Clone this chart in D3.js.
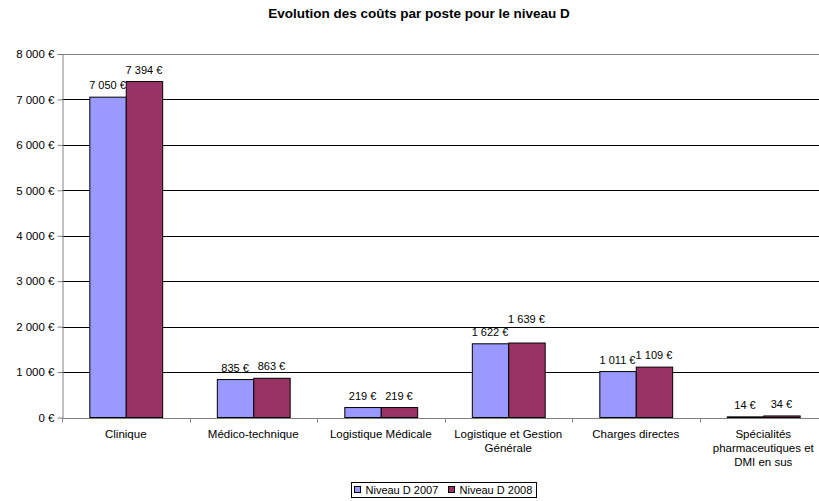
<!DOCTYPE html>
<html>
<head>
<meta charset="utf-8">
<script src="https://cdn.jsdelivr.net/npm/d3@7"></script>
<style>
  body { margin: 0; background: #fff; }
  svg { display: block; font-family: 'Liberation Sans', Arial, sans-serif; }
</style>
</head>
<body>
<svg id="chart" width="819" height="501"></svg>
<script>
const categories = [
  'Clinique',
  'Médico-technique',
  'Logistique Médicale',
  'Logistique et Gestion Générale',
  'Charges directes',
  'Spécialités pharmaceutiques et DMI en sus'
]
const seriesNames = ['Niveau D 2007', 'Niveau D 2008']
const values2007 = [7050, 835, 219, 1622, 1011, 14]
const values2008 = [7394, 863, 219, 1639, 1109, 34]
const yTicks = [0, 1000, 2000, 3000, 4000, 5000, 6000, 7000, 8000]

const width = 819
const height = 501
const colors = ['#9999FF', '#993366']
const plot = { left: 62, top: 54, bottom: 417.5, catWidth: 127.5 }

const fmt = (v) => d3.format(',')(v).replace(/,/g, ' ') + ' €'

const svg = d3.select('#chart')

// title
svg
  .append('text')
  .attr('x', 419)
  .attr('y', 18)
  .attr('text-anchor', 'middle')
  .attr('font-size', 13.5)
  .attr('font-weight', 'bold')
  .text('Evolution des coûts par poste pour le niveau D')

const x0 = d3
  .scaleBand()
  .domain(categories)
  .range([plot.left, plot.left + plot.catWidth * categories.length])

const x1 = d3
  .scaleBand()
  .domain(seriesNames)
  .range([0, x0.bandwidth()])
  .paddingOuter(0.75)

const y = d3.scaleLinear().domain([0, 8000]).range([plot.bottom, plot.top])

// gridlines
svg
  .append('g')
  .selectAll('line')
  .data(yTicks.filter((t) => t > 0 && t < 8000))
  .join('line')
  .attr('x1', plot.left)
  .attr('x2', width)
  .attr('y1', (d) => Math.round(y(d)) + 0.5)
  .attr('y2', (d) => Math.round(y(d)) + 0.5)
  .attr('stroke', '#000')

// plot border top
svg
  .append('line')
  .attr('x1', plot.left)
  .attr('x2', width)
  .attr('y1', Math.round(y(8000)) + 0.5)
  .attr('y2', Math.round(y(8000)) + 0.5)
  .attr('stroke', '#808080')

// y axis
const yAxis = svg
  .append('g')
  .attr('transform', `translate(${plot.left + 0.5},0)`)
  .call(
    d3
      .axisLeft(y)
      .tickValues(yTicks)
      .tickFormat(fmt)
      .tickSize(5)
      .tickPadding(3)
      .tickSizeOuter(0)
  )
yAxis.select('.domain').attr('stroke', '#808080')
yAxis.selectAll('.tick line').attr('stroke', '#808080')
yAxis
  .selectAll('.tick text')
  .attr('font-size', 11.5)
  .attr('font-family', 'Liberation Sans, Arial, sans-serif')
  .attr('fill', '#000')

// bars
const data = categories.map((c, i) => ({
  category: c,
  values: [
    { serie: seriesNames[0], value: values2007[i], color: colors[0] },
    { serie: seriesNames[1], value: values2008[i], color: colors[1] }
  ]
}))

const groups = svg
  .append('g')
  .selectAll('g')
  .data(data)
  .join('g')
  .attr('transform', (d) => `translate(${x0(d.category)},0)`)

groups
  .selectAll('rect')
  .data((d) => d.values)
  .join('rect')
  .attr('x', (d) => x1(d.serie) + 0.5)
  .attr('y', (d) => y(d.value))
  .attr('width', x1.bandwidth())
  .attr('height', (d) => plot.bottom - y(d.value))
  .attr('fill', (d) => d.color)
  .attr('stroke', '#000')
  .attr('stroke-width', 1)

// x axis
const xAxis = svg
  .append('g')
  .attr('transform', `translate(0,${Math.round(plot.bottom) + 0.5})`)
xAxis
  .append('line')
  .attr('x1', plot.left)
  .attr('x2', width)
  .attr('stroke', '#808080')
xAxis
  .selectAll('line.tick')
  .data(d3.range(categories.length + 1))
  .join('line')
  .attr('class', 'tick')
  .attr('x1', (i) => Math.round(plot.left + i * plot.catWidth) + 0.5)
  .attr('x2', (i) => Math.round(plot.left + i * plot.catWidth) + 0.5)
  .attr('y2', 4)
  .attr('stroke', '#808080')

// value labels, raise a label if it collides with its neighbour
groups.each(function (d) {
  const g = d3.select(this)
  let prev = null
  d.values.forEach((v) => {
    const t = g
      .append('text')
      .attr('x', x1(v.serie) + x1.bandwidth() / 2)
      .attr('y', y(v.value) - 8)
      .attr('text-anchor', 'middle')
      .attr('font-size', 11)
      .text(fmt(v.value))
    if (prev) {
      const a = prev.node().getBBox()
      const b = t.node().getBBox()
      const overlapX = a.x + a.width > b.x - 2
      if (overlapX && Math.abs(a.y - b.y) < 2) {
        t.attr('y', +t.attr('y') - 12)
      }
    }
    prev = t
  })
})

// category labels with wrapping
const wrapWidth = 112
groups.each(function (d) {
  const g = d3.select(this)
  const text = g
    .append('text')
    .attr('text-anchor', 'middle')
    .attr('font-size', 11.5)
  const words = d.category.split(' ')
  const lines = []
  let line = []
  const probe = text.append('tspan')
  words.forEach((w) => {
    const test = line.concat(w).join(' ')
    probe.text(test)
    if (probe.node().getComputedTextLength() > wrapWidth && line.length) {
      lines.push(line.join(' '))
      line = [w]
    } else {
      line.push(w)
    }
  })
  lines.push(line.join(' '))
  probe.remove()
  text
    .selectAll('tspan')
    .data(lines)
    .join('tspan')
    .attr('x', plot.catWidth / 2)
    .attr('y', (l, i) => 438 + i * 14)
    .text((l) => l)
})

// legend
const legend = svg.append('g').attr('transform', 'translate(351.5,482.5)')
legend
  .append('rect')
  .attr('width', 185)
  .attr('height', 15)
  .attr('fill', '#fff')
  .attr('stroke', '#000')
const items = legend
  .selectAll('g')
  .data(seriesNames)
  .join('g')
  .attr('transform', (d, i) => `translate(${3 + i * 94},4)`)
items
  .append('rect')
  .attr('width', 6)
  .attr('height', 6)
  .attr('fill', (d, i) => colors[i])
  .attr('stroke', '#000')
items
  .append('text')
  .attr('x', 11)
  .attr('y', 7.5)
  .attr('font-size', 11)
  .text((d) => d)
</script>
</body>
</html>
